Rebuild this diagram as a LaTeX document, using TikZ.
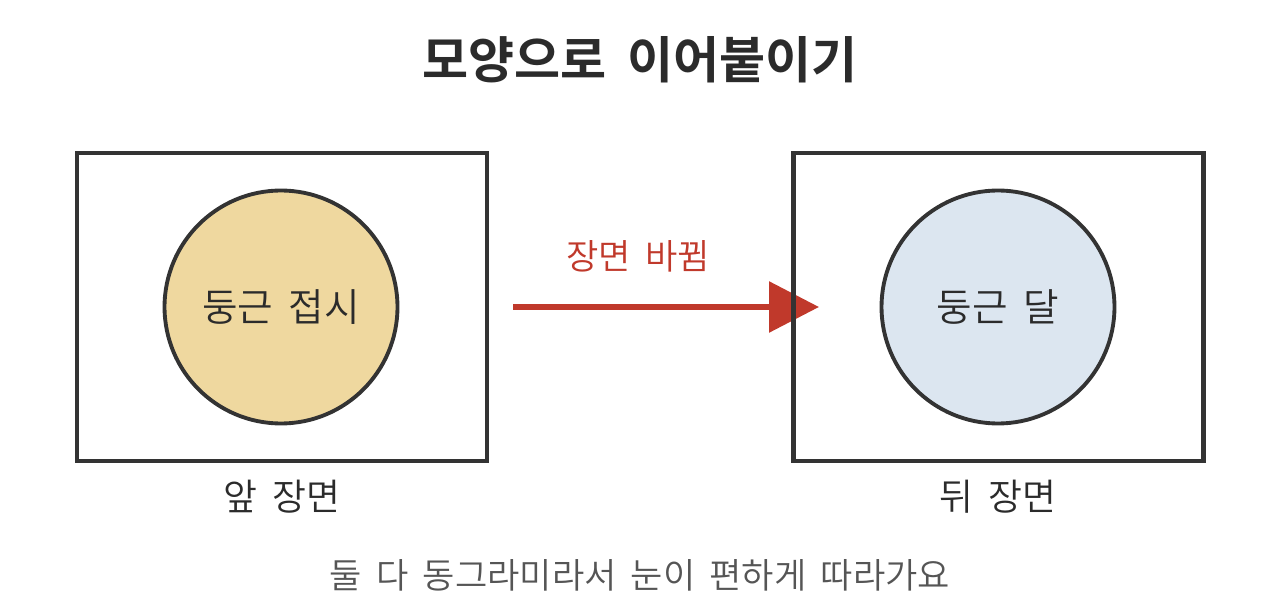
\documentclass[tikz,border=0pt]{standalone}
\usepackage{fontspec}
\usetikzlibrary{arrows.meta}
\newfontfamily\kr[WordSpace=1.8]{Noto Sans CJK KR DemiLight}
\newfontfamily\krbold[WordSpace=1.8]{Noto Sans CJK KR Bold}
\definecolor{ink}{HTML}{2B2B2B}
\definecolor{edge}{HTML}{333333}
\definecolor{note}{HTML}{555555}
\definecolor{cut}{HTML}{C0392B}
\definecolor{plate}{HTML}{EFD89F}
\definecolor{moon}{HTML}{DCE6F0}

\begin{document}
\begin{tikzpicture}[x=0.02cm,y=-0.02cm,
  frame/.style={draw=edge, line width=2.4pt, minimum width=8.2cm, minimum height=6.16cm, inner sep=0pt},
  disc/.style={circle, draw=edge, line width=2.2pt, minimum size=4.66cm, inner sep=0pt, font=\kr\fontsize{22}{26}\selectfont, text=ink},
  caption/.style={font=\kr\fontsize{21}{25}\selectfont, text=ink}]
  \useasboundingbox (0,0) rectangle (1280,614);
  % title
  \node (title) at (640,60) {\krbold\fontsize{28.5}{34}\selectfont\color{ink}모양으로 이어붙이기};
  % scene change arrow (under the frame)
  \coordinate (from) at (513,307);
  \coordinate (to) at (819,307);
  \draw [cut, line width=3.4pt, -{Triangle[length=1cm,width=1cm]}] (from) -- (to);
  \node [font=\kr\fontsize{20}{24}\selectfont, text=cut] (change) at (638,256) {장면 바뀜};
  % front scene
  \node [frame] (front) at (282,307) {};
  \node [disc, fill=plate] (dish) at (281,307) {둥근 접시};
  \node [caption] (frontlbl) at (282,497) {앞 장면};
  % back scene
  \node [frame] (back) at (998.5,307) {};
  \node [disc, fill=moon] (moonc) at (998,307) {둥근 달};
  \node [caption] (backlbl) at (998,497) {뒤 장면};
  % note
  \node [font=\kr\fontsize{20}{24}\selectfont, text=note] (note) at (640,575) {둘 다 동그라미라서 눈이 편하게 따라가요};
\end{tikzpicture}
\end{document}
